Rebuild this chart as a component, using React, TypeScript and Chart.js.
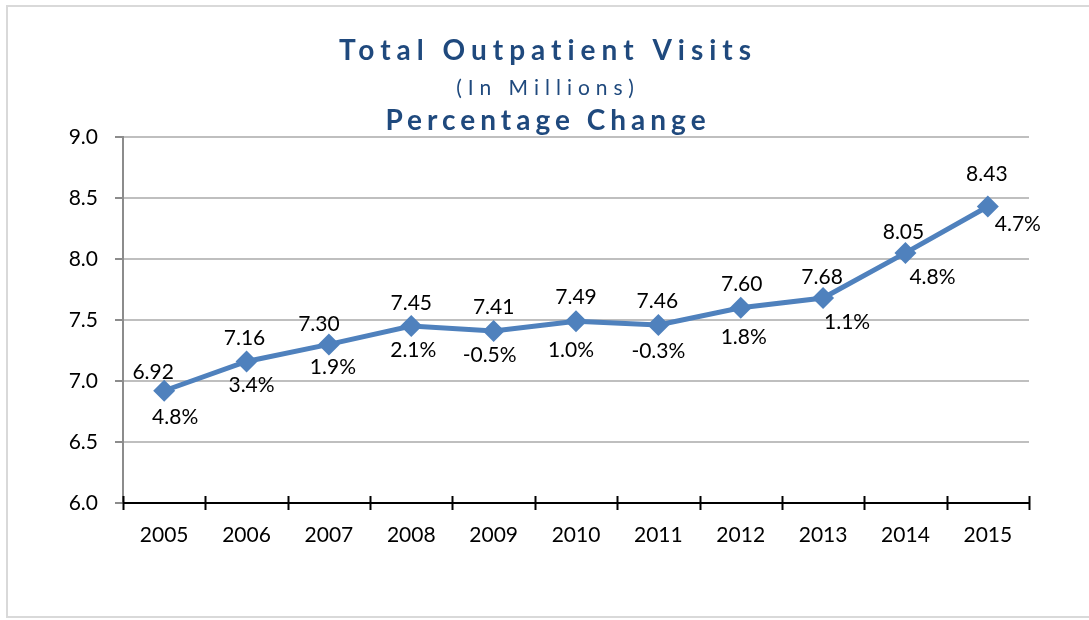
import React, { useEffect, useRef } from "react";
import { Chart, registerables } from "chart.js";

Chart.register(...registerables);

const years = ["2005", "2006", "2007", "2008", "2009", "2010", "2011", "2012", "2013", "2014", "2015"];
const visits = [6.92, 7.16, 7.3, 7.45, 7.41, 7.49, 7.46, 7.6, 7.68, 8.05, 8.43];
const pctChange = ["4.8%", "3.4%", "1.9%", "2.1%", "-0.5%", "1.0%", "-0.3%", "1.8%", "1.1%", "4.8%", "4.7%"];
const titleLines = ["Total Outpatient Visits", "(In Millions)", "Percentage Change"];

// label placement (pixel offsets from each point)
const valueOffsets: [number, number][] = [
  [-11, -19], [-2, -23], [-10, -20], [0, -23], [0, -24], [0, -24], [-1, -24], [1, -24], [-1, -21], [-2, -21], [-1, -32],
];
const pctOffsets: [number, number][] = [
  [11, 26], [5, 24], [4, 23], [2, 24], [-4, 24], [-5, 29], [0, 26], [3, 29], [24, 24], [27, 24], [30, 18],
];

const FONT = "Lato, 'Open Sans', sans-serif";
const TITLE_COLOR = "#1F497D";

const titlePlugin = {
  id: "customTitle",
  afterDraw(chart: any) {
    const ctx = chart.ctx as CanvasRenderingContext2D;
    const cx = 548;
    const specs = [
      { text: titleLines[0], font: `bold 28px ${FONT}`, y: 51, sp: "6px" },
      { text: titleLines[1], font: `21px ${FONT}`, y: 88, sp: "6px" },
      { text: titleLines[2], font: `bold 28px ${FONT}`, y: 121, sp: "5px" },
    ];
    ctx.save();
    ctx.fillStyle = TITLE_COLOR;
    ctx.textAlign = "center";
    ctx.textBaseline = "middle";
    for (const s of specs) {
      ctx.font = s.font;
      (ctx as any).letterSpacing = s.sp;
      ctx.fillText(s.text, cx, s.y);
    }
    (ctx as any).letterSpacing = "0px";
    ctx.restore();
  },
};

const axisTicksPlugin = {
  id: "axisTicks",
  afterDraw(chart: any) {
    const ctx = chart.ctx as CanvasRenderingContext2D;
    const area = chart.chartArea;
    ctx.save();
    ctx.strokeStyle = "#000";
    ctx.lineWidth = 2;
    const n = years.length;
    const step = (area.right - area.left) / n;
    for (let i = 0; i <= n; i++) {
      const px = Math.round(area.left + i * step) + 0.5;
      ctx.beginPath();
      ctx.moveTo(px, area.bottom - 7);
      ctx.lineTo(px, area.bottom + 7);
      ctx.stroke();
    }
    ctx.beginPath();
    ctx.moveTo(area.left, area.bottom);
    ctx.lineTo(area.right, area.bottom);
    ctx.stroke();
    ctx.restore();
  },
};

const labelsPlugin = {
  id: "pointLabels",
  afterDatasetsDraw(chart: any) {
    const ctx = chart.ctx as CanvasRenderingContext2D;
    const meta = chart.getDatasetMeta(0);
    ctx.save();
    ctx.font = `21px ${FONT}`;
    ctx.fillStyle = "#000";
    ctx.textAlign = "center";
    ctx.textBaseline = "middle";
    meta.data.forEach((pt: any, i: number) => {
      ctx.fillText(visits[i].toFixed(2), pt.x + valueOffsets[i][0], pt.y + valueOffsets[i][1]);
      ctx.fillText(pctChange[i], pt.x + pctOffsets[i][0], pt.y + pctOffsets[i][1]);
    });
    ctx.restore();
  },
};

export default function App() {
  const ref = useRef<HTMLCanvasElement>(null);
  useEffect(() => {
    if (!ref.current) return;
    const chart = new Chart(ref.current, {
      type: "line",
      data: {
        labels: years,
        datasets: [
          {
            data: visits,
            borderColor: "#4F81BD",
            backgroundColor: "#4F81BD",
            borderWidth: 5,
            pointStyle: "rectRot",
            pointRadius: 11,
            pointBorderWidth: 0,
            pointBackgroundColor: "#4F81BD",
            tension: 0,
          },
        ],
      },
      options: {
        animation: false,
        responsive: false,
        maintainAspectRatio: false,
        layout: { padding: { top: 137, right: 60, left: 0, bottom: 0 } },
        plugins: { legend: { display: false }, title: { display: false }, tooltip: { enabled: false } },
        scales: {
          x: {
            offset: true,
            grid: { display: false },
            border: { display: false },
            ticks: { color: "#000", font: { family: FONT, size: 21 }, padding: 12, maxRotation: 0 },
            afterFit(scale: any) {
              scale.height = 117;
            },
          },
          y: {
            min: 6,
            max: 9,
            ticks: {
              stepSize: 0.5,
              color: "#000",
              font: { family: FONT, size: 21 },
              padding: 17,
              callback: (v: any) => Number(v).toFixed(1),
            },
            grid: { color: "#BFBFBF", lineWidth: 2, tickLength: 8, tickColor: "#8C8C8C" },
            border: { display: true, color: "#8C8C8C", width: 2 },
            afterFit(scale: any) {
              scale.width = 123;
            },
          },
        },
      },
      plugins: [titlePlugin, axisTicksPlugin, labelsPlugin],
    });
    return () => chart.destroy();
  }, []);

  return (
    <div style={{ position: "absolute", left: 0, top: 0, width: 1089, height: 620, overflow: "hidden", background: "#fff" }}>
      <div
        style={{
          position: "absolute",
          left: 6,
          top: 5,
          width: 1200,
          height: 613,
          boxSizing: "border-box",
          border: "2px solid #D9D9D9",
        }}
      />
      <canvas ref={ref} width={1089} height={620} style={{ position: "absolute", left: 0, top: 0 }} />
    </div>
  );
}
